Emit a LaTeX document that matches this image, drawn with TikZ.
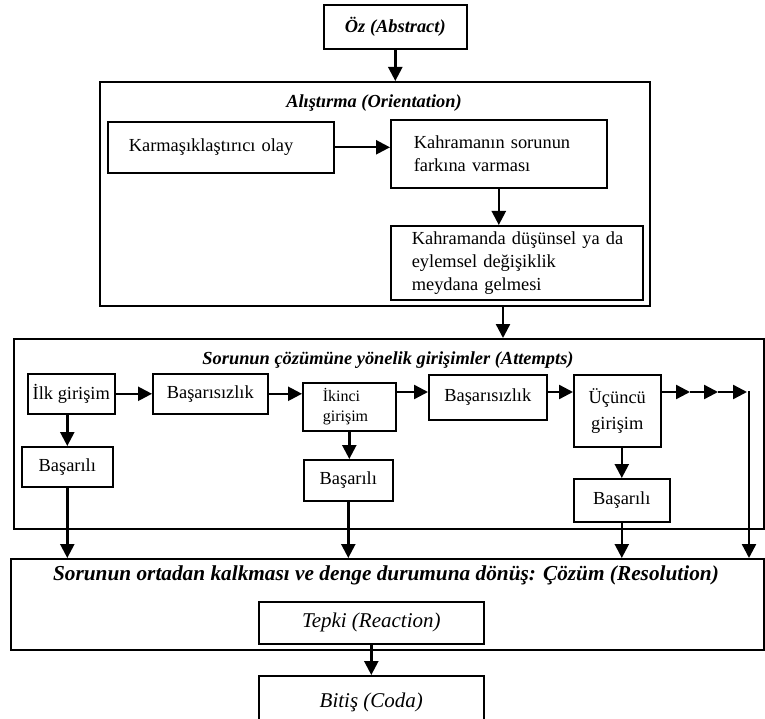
\documentclass[tikz,border=0pt]{standalone}
\usepackage{fontspec}
\setmainfont{Liberation Serif}
\usetikzlibrary{arrows.meta}
\newcommand\fnorm{\fontsize{18.4}{23}\selectfont}
\newcommand\fsmall{\fontsize{16}{20}\selectfont}
\newcommand\fbig{\fontsize{21.3}{25}\selectfont}
\begin{document}
\begin{tikzpicture}[x=1pt,y=-1pt,
  bx/.style={draw, line width=1.6pt, anchor=north west, inner sep=0pt, align=center, font=\fnorm},
  frame/.style={draw, line width=1.8pt, anchor=north west, inner sep=0pt},
  arr/.style={line width=2.4pt, -{Triangle[length=14pt,width=14pt]}},
  ttl/.style={font=\fnorm\bfseries\itshape, anchor=base, inner sep=0pt}]
\clip (0,0) rectangle (765,719);
\fill[white] (0,0) rectangle (765,719);

% top
\node[bx, minimum width=143, minimum height=44, font=\fnorm\bfseries\itshape] (oz) at (323,4) {Öz (Abstract)};

% orientation
\node[frame, minimum width=550, minimum height=224] (orient) at (99,81) {};
\node[ttl] (otit) at (374,108) {Alıştırma (Orientation)};
\node[bx, minimum width=226, minimum height=51, text width=184, inner xsep=21, align=left] (karm) at (107,121) {\mbox{Karmaşıklaştırıcı olay}};
\node[bx, minimum width=216, minimum height=68, text width=170, inner xsep=23, align=left] (kahr1) at (390,119) {\mbox{Kahramanın sorunun}\\\mbox{farkına varması}};
\node[bx, minimum width=252, minimum height=74, text width=210, inner xsep=21, align=left] (kahr2) at (390,225) {\mbox{Kahramanda düşünsel ya da}\\\mbox{eylemsel değişiklik}\\\mbox{meydana gelmesi}};

% attempts
\node[frame, minimum width=750, minimum height=190] (att) at (13,338) {};
\node[ttl] (atit) at (388,364) {Sorunun çözümüne yönelik girişimler (Attempts)};
\node[bx, minimum width=87, minimum height=40] (ilk) at (27,373) {İlk girişim};
\node[bx, minimum width=115, minimum height=40] (bas1) at (152,373) {Başarısızlık};
\node[bx, minimum width=93, minimum height=48, text width=53, inner xsep=20, align=left, font=\fsmall] (ik) at (302,382) {İkinci\\girişim};
\node[bx, minimum width=118, minimum height=45] (bas2) at (428,374) {Başarısızlık};
\node[bx, minimum width=87, minimum height=72, font=\fontsize{18.4}{26}\selectfont] (uc) at (573,374) {Üçüncü\\girişim};
\node[bx, minimum width=91, minimum height=40] (basl1) at (21,446) {Başarılı};
\node[bx, minimum width=89, minimum height=41] (basl2) at (303,459) {Başarılı};
\node[bx, minimum width=96, minimum height=43] (basl3) at (573,478) {Başarılı};

% resolution
\node[frame, minimum width=753, minimum height=91] (res) at (10,558) {};
\node[ttl, font=\fbig\bfseries\itshape] (rtit) at (386,580) {Sorunun ortadan kalkması ve denge durumuna dönüş: Çözüm (Resolution)};
\node[bx, minimum width=225, minimum height=42, font=\fontsize{21}{25}\selectfont\itshape] (tepki) at (258,601) {Tepki (Reaction)};
\node[bx, minimum width=225, minimum height=54, font=\fontsize{21}{25}\selectfont\itshape] (bitis) at (258,675) {Bitiş (Coda)};

% helper coordinates
\coordinate (row) at (0,392);
\coordinate (oa) at (503,305);
\coordinate (t1) at (690,392);
\coordinate (t2) at (718,392);
\coordinate (t3) at (747,392);
\coordinate (corner) at (749,392);

% connectors
\draw[arr] (oz.south) -- (oz.south |- orient.north);
\draw[arr] (karm.east) -- (karm.east -| kahr1.west);
\draw[arr] (kahr1.south) -- (kahr1.south |- kahr2.north);
\draw[arr] (oa) -- (oa |- att.north);

\draw[arr] (ilk.east) -- (ilk.east -| bas1.west);
\draw[arr] (bas1.east) -- (bas1.east -| ik.west);
\draw[arr] (ik.east |- row) -- (bas2.west |- row);
\draw[arr] (bas2.east |- row) -- (uc.west |- row);
\draw[arr] (uc.east |- row) -- (t1);
\draw[arr] (t1) -- (t2);
\draw[arr] (t2) -- (t3);
\draw[arr] ([yshift=1.2pt]corner) -- (corner |- res.north);

\draw[arr] (basl1.north |- ilk.south) -- (basl1.north);
\draw[arr] (basl1.south) -- (basl1.south |- res.north);
\draw[arr] (ik.south) -- (ik.south |- basl2.north);
\draw[arr] (basl2.south) -- (basl2.south |- res.north);
\draw[arr] (basl3.north |- uc.south) -- (basl3.north);
\draw[arr] (basl3.south) -- (basl3.south |- res.north);

\draw[arr] (tepki.south) -- (tepki.south |- bitis.north);
\end{tikzpicture}
\end{document}
